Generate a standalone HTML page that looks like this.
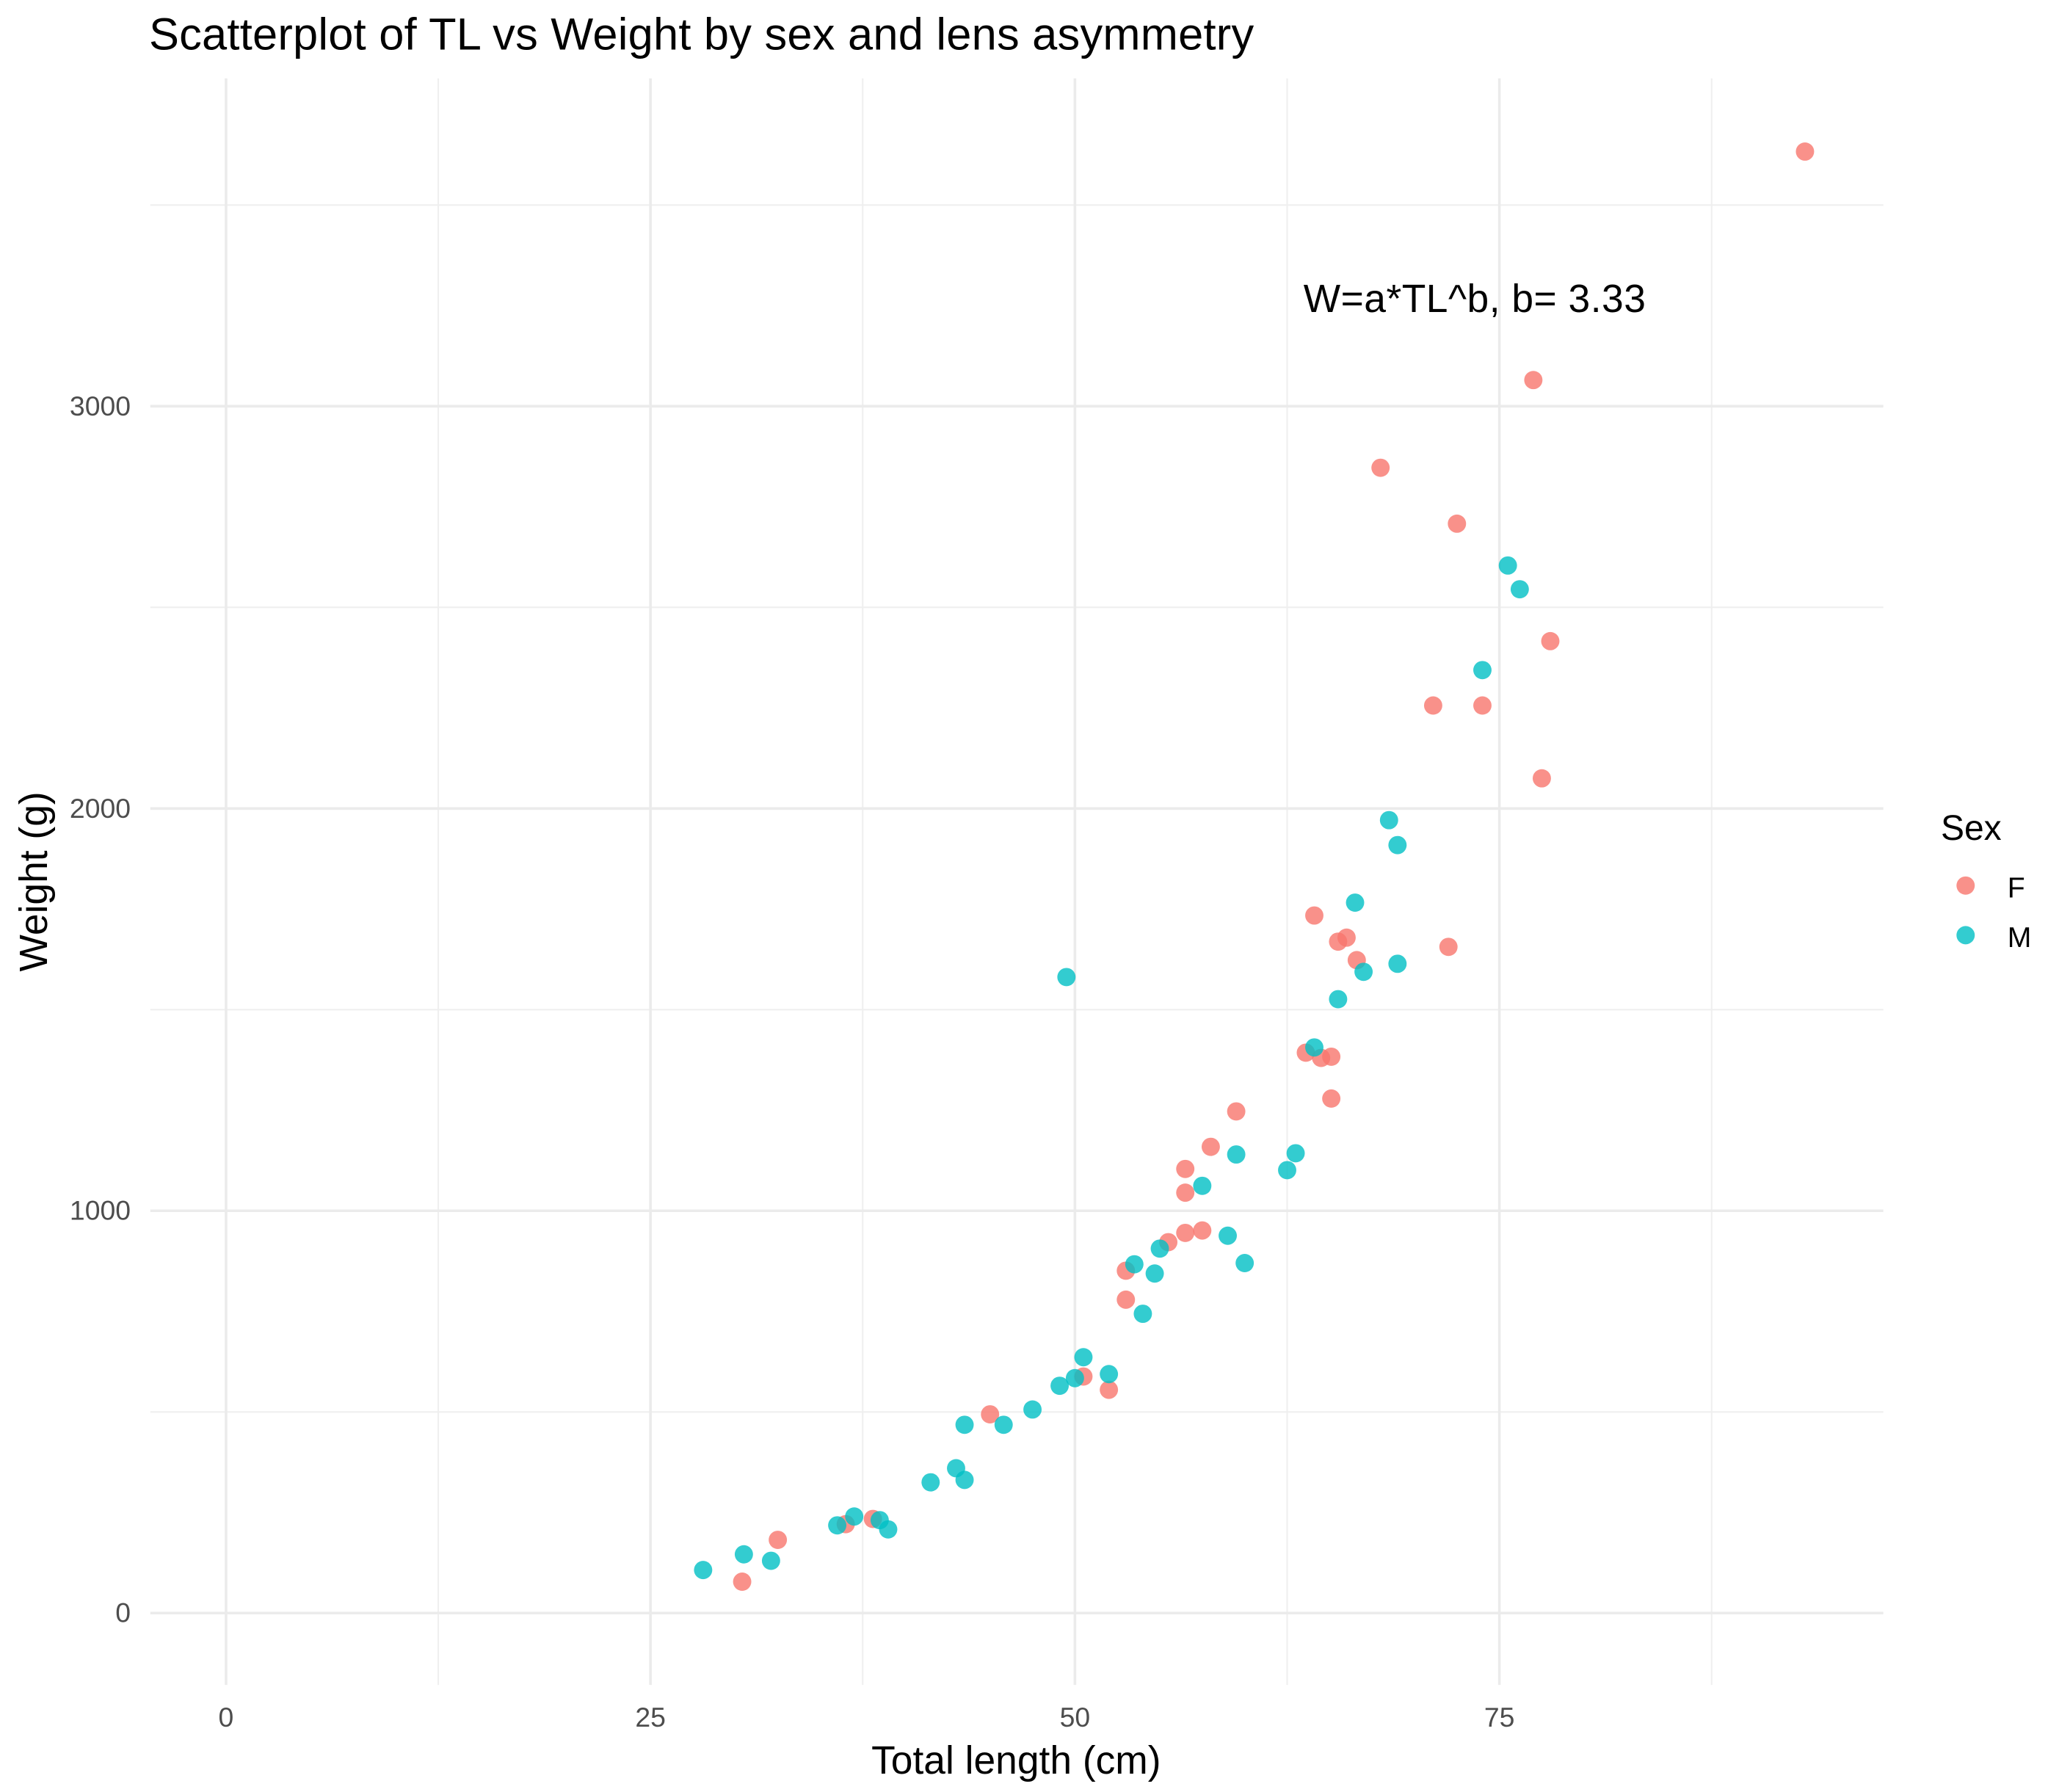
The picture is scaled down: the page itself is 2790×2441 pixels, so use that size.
<!DOCTYPE html>
<html><head><meta charset="utf-8"><style>
html,body{margin:0;padding:0;background:#fff;}
svg{display:block;font-family:"Liberation Sans",sans-serif;}
</style></head><body>
<svg id="chart" width="2790" height="2441" viewBox="0 0 1568 1372" xmlns="http://www.w3.org/2000/svg">
<g id="grid"></g>
<g id="pts"></g>
<text x="114" y="38" font-size="34.5" textLength="846" fill="#000">Scatterplot of TL vs Weight by sex and lens asymmetry</text>
<text x="998" y="239" font-size="30" textLength="262" fill="#000">W=a*TL^b, b= 3.33</text>
<text x="778" y="1358" font-size="30" text-anchor="middle">Total length (cm)</text>
<text transform="translate(36,675) rotate(-90)" font-size="30" text-anchor="middle">Weight (g)</text>
<g>
<text x="1486" y="643" font-size="27">Sex</text>
<circle cx="1505" cy="678" r="7" fill="#F8766D" fill-opacity="0.8"/>
<text x="1537" y="687" font-size="22">F</text>
<circle cx="1505" cy="716" r="7" fill="#00BFC4" fill-opacity="0.8"/>
<text x="1537" y="725" font-size="22">M</text>
</g>
</svg>
<script>
const xTicks=[0,25,50,75];
const xMinor=[12.5,37.5,62.5,87.5];
const yTicks=[0,1000,2000,3000];
const yMinor=[500,1500,2500,3500];
const fTL=[93.0,77.0,68.0,72.5,78.0,71.1,74.0,77.5,64.1,65.5,66.0,66.6,72.0,63.6,64.5,65.1,65.1,59.5,58.0,56.5,56.5,57.5,56.5,55.5,53.0,53.0,50.5,52.0,45.0,38.1,36.5,32.5,30.4];
const fW=[3633,3065,2847,2708,2416,2256,2256,2075,1734,1669,1679,1623,1656,1393,1380,1383,1279,1247,1159,1104,1045,951,945,922,851,779,588,555,494,234,221,182,78];
const mTL=[75.5,76.2,74.0,68.5,69.0,66.5,49.5,69.0,67.0,65.5,64.1,63.0,62.5,59.5,57.5,59.0,60.0,55.0,53.5,54.7,54.0,50.5,52.0,50.0,49.1,47.5,43.5,45.8,43.0,43.5,41.5,37.0,38.5,39.0,36.0,30.5,32.1,28.1];
const mW=[2604,2545,2344,1971,1909,1766,1581,1614,1594,1526,1406,1143,1101,1140,1062,938,870,906,867,844,744,636,594,584,565,506,468,468,360,331,325,240,231,208,218,146,130,107];
const NS='http://www.w3.org/2000/svg';
const X0=115,X1=1442,Y0=60,Y1=1290;
const sx=v=>173+v*13;
const sy=v=>1235-v*0.308;
const grid=document.getElementById('grid');
function ln(x1,y1,x2,y2,c,w,name){const l=document.createElementNS(NS,'line');
l.setAttribute('x1',x1);l.setAttribute('y1',y1);l.setAttribute('x2',x2);l.setAttribute('y2',y2);
l.setAttribute('stroke',c);l.setAttribute('stroke-width',w);


grid.appendChild(l);}
function tx(x,y,s,anchor,name){const t=document.createElementNS(NS,'text');
t.setAttribute('x',x);t.setAttribute('y',y);t.setAttribute('font-size',21);t.setAttribute('fill','#4D4D4D');t.setAttribute('text-anchor',anchor);t.textContent=s;


grid.appendChild(t);}
xMinor.forEach(v=>ln(sx(v),Y0,sx(v),Y1,'#EFEFEF',1.2,'x-minor-gridline'));
yMinor.forEach(v=>ln(X0,sy(v),X1,sy(v),'#EFEFEF',1.2,'y-minor-gridline'));
xTicks.forEach(v=>{ln(sx(v),Y0,sx(v),Y1,'#EBEBEB',2,'x-gridline');tx(sx(v),1322,String(v),'middle','x-tick-label');});
yTicks.forEach(v=>{ln(X0,sy(v),X1,sy(v),'#EBEBEB',2,'y-gridline');tx(100,sy(v)+7,String(v),'end','y-tick-label');});
const pts=document.getElementById('pts');
function dots(xs,ys,col,name){xs.forEach((v,i)=>{const c=document.createElementNS(NS,'circle');
c.setAttribute('cx',sx(v));c.setAttribute('cy',sy(ys[i]));c.setAttribute('r',7);
c.setAttribute('fill',col);c.setAttribute('fill-opacity','0.8');


pts.appendChild(c);});}
dots(fTL,fW,'#F8766D','point-female');
dots(mTL,mW,'#00BFC4','point-male');
</script>
</body></html>
